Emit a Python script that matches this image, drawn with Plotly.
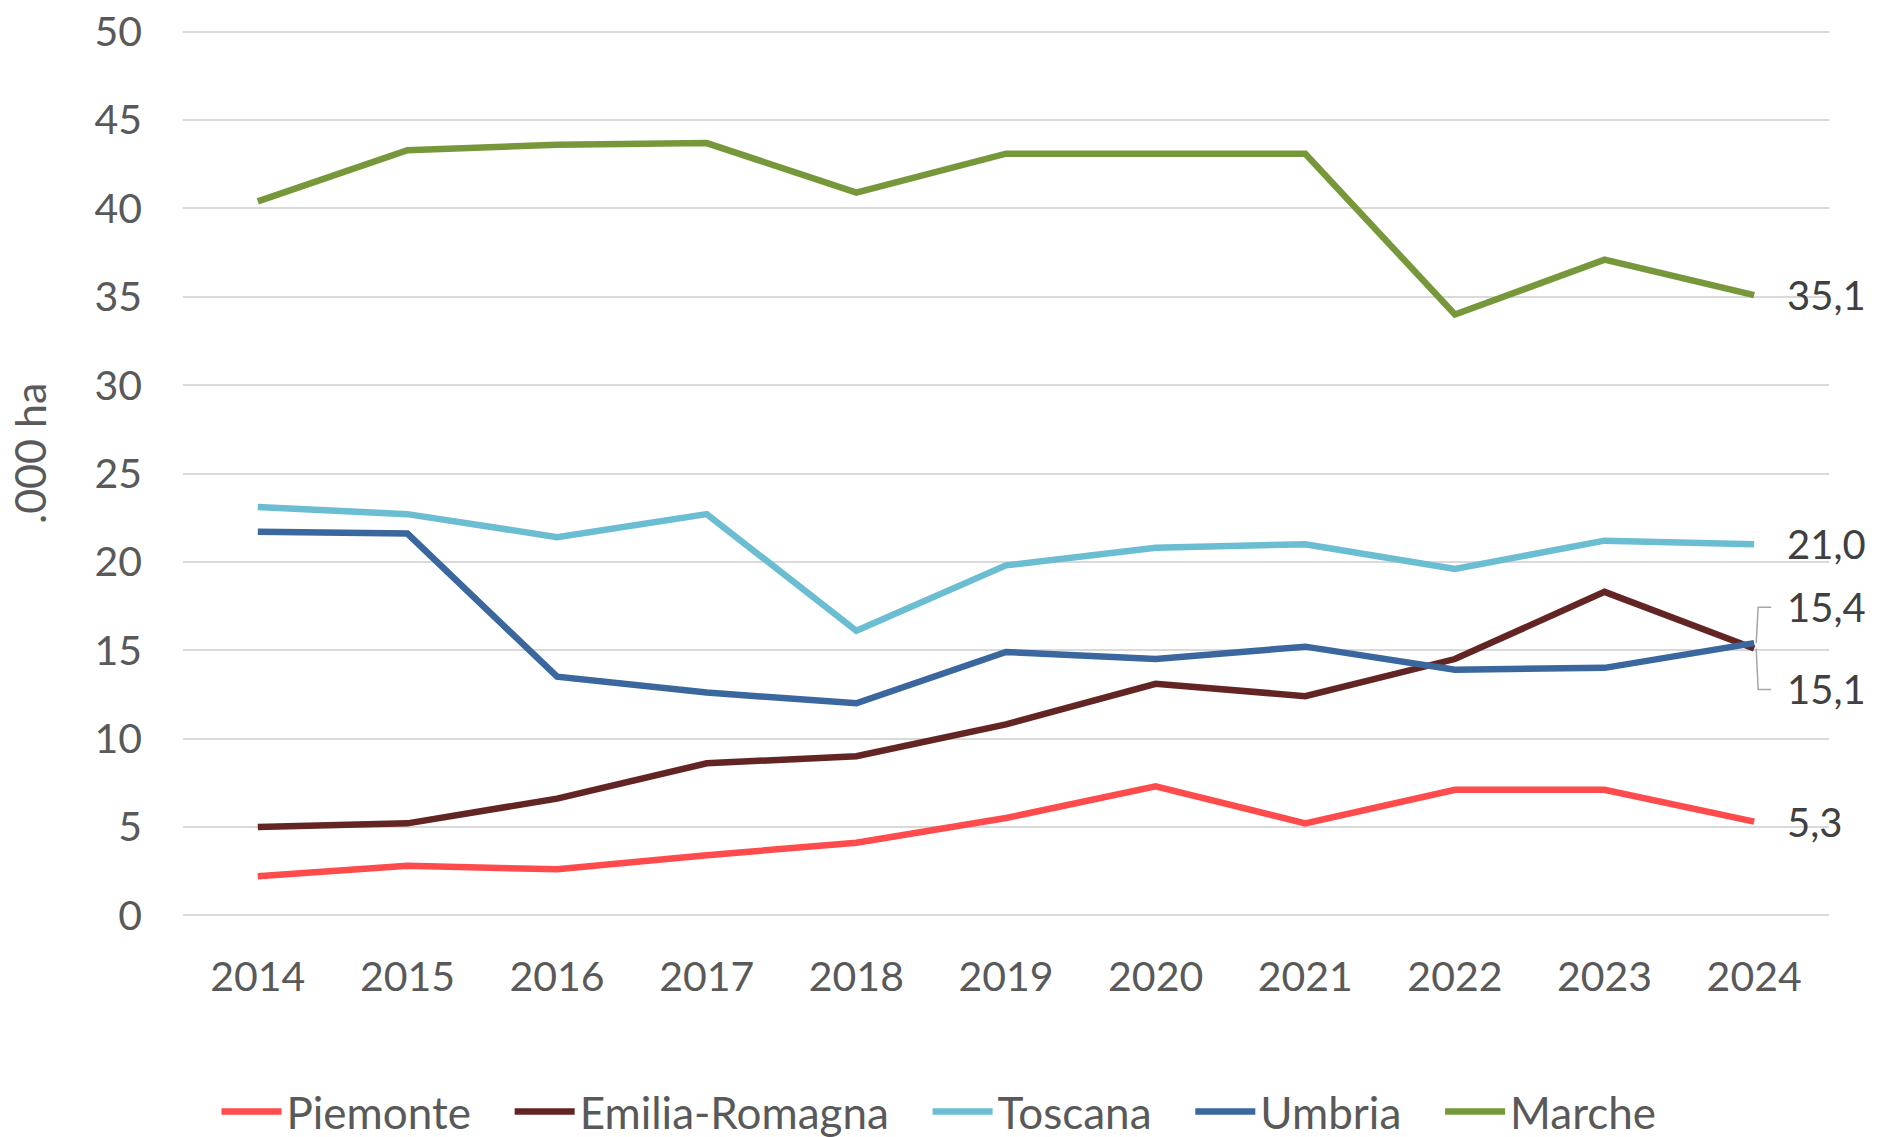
import plotly.graph_objects as go

years = [2014, 2015, 2016, 2017, 2018, 2019, 2020, 2021, 2022, 2023, 2024]
piemonte = [2.2, 2.8, 2.6, 3.4, 4.1, 5.5, 7.3, 5.2, 7.1, 7.1, 5.3]
emilia = [5.0, 5.2, 6.6, 8.6, 9.0, 10.8, 13.1, 12.4, 14.5, 18.3, 15.1]
toscana = [23.1, 22.7, 21.4, 22.7, 16.1, 19.8, 20.8, 21.0, 19.6, 21.2, 21.0]
umbria = [21.7, 21.6, 13.5, 12.6, 12.0, 14.9, 14.5, 15.2, 13.9, 14.0, 15.4]
marche = [40.4, 43.3, 43.6, 43.7, 40.9, 43.1, 43.1, 43.1, 34.0, 37.1, 35.1]
y_ticks = [0, 5, 10, 15, 20, 25, 30, 35, 40, 45, 50]

names = ["Piemonte", "Emilia-Romagna", "Toscana", "Umbria", "Marche"]
series = [piemonte, emilia, toscana, umbria, marche]
colors = ["#FF4B4B", "#632523", "#6BBDD1", "#3A679E", "#77983A"]
label_yshift = [0, -41, 0, 36, 0]

FONT = "Lato"
NBSP = "\u00a0"
fig = go.Figure()
for i, (name, vals, col) in enumerate(zip(names, series, colors)):
    pad = NBSP * 3 if i < len(names) - 1 else ""
    fig.add_trace(go.Scatter(x=years, y=vals, mode="lines", name=name + pad,
                             line=dict(color=col, width=6.5)))

for vals, ys in zip(series, label_yshift):
    v = vals[-1]
    fig.add_annotation(x=years[-1], y=v, xref="x", yref="y",
                       text=f"{v:.1f}".replace(".", ","), showarrow=False,
                       xanchor="left", yanchor="middle", xshift=31, yshift=ys,
                       font=dict(family=FONT, size=40, color="#404040"))

# leader bracket lines for the two overlapping labels
for vals, ys in [(umbria, 36), (emilia, -41)]:
    fig.add_shape(type="path", xref="x", yref="y",
                  xsizemode="pixel", ysizemode="pixel",
                  xanchor=years[-1], yanchor=vals[-1],
                  path=f"M 2,0 L 4,{ys} L 17,{ys}",
                  line=dict(color="#A6A6A6", width=1.5))

# y-axis title
fig.add_annotation(text=".000 ha", xref="paper", yref="paper", x=0, y=0.522,
                   xanchor="center", yanchor="middle", xshift=-153,
                   textangle=-90, showarrow=False,
                   font=dict(family=FONT, size=43, color="#595959"))

fig.update_layout(
    width=1878, height=1137,
    margin=dict(l=183, r=49, t=30, b=220, autoexpand=False),
    plot_bgcolor="white", paper_bgcolor="white",
    font=dict(family=FONT, size=41, color="#595959"),
    showlegend=True,
    legend=dict(orientation="h", x=0.5, xref="container", xanchor="center",
                y=0.022, yref="container", yanchor="middle",
                font=dict(family=FONT, size=44, color="#595959"),
                itemwidth=60, tracegroupgap=0),
    xaxis=dict(range=[2013.5, 2024.5], tickmode="array", tickvals=years,
               showgrid=False, zeroline=False, showline=False,
               ticks="", ticklabelstandoff=32, automargin=False),
    yaxis=dict(range=[-0.1, 50.1], tickvals=y_ticks,
               showgrid=True, gridcolor="#D9D9D9",
               gridwidth=1.5, zeroline=False, showline=False, ticks="",
               ticklabelstandoff=40, automargin=False),
)

fig.write_html("out.html", config={"displayModeBar": False},
               post_script="document.body.style.margin='0';")
